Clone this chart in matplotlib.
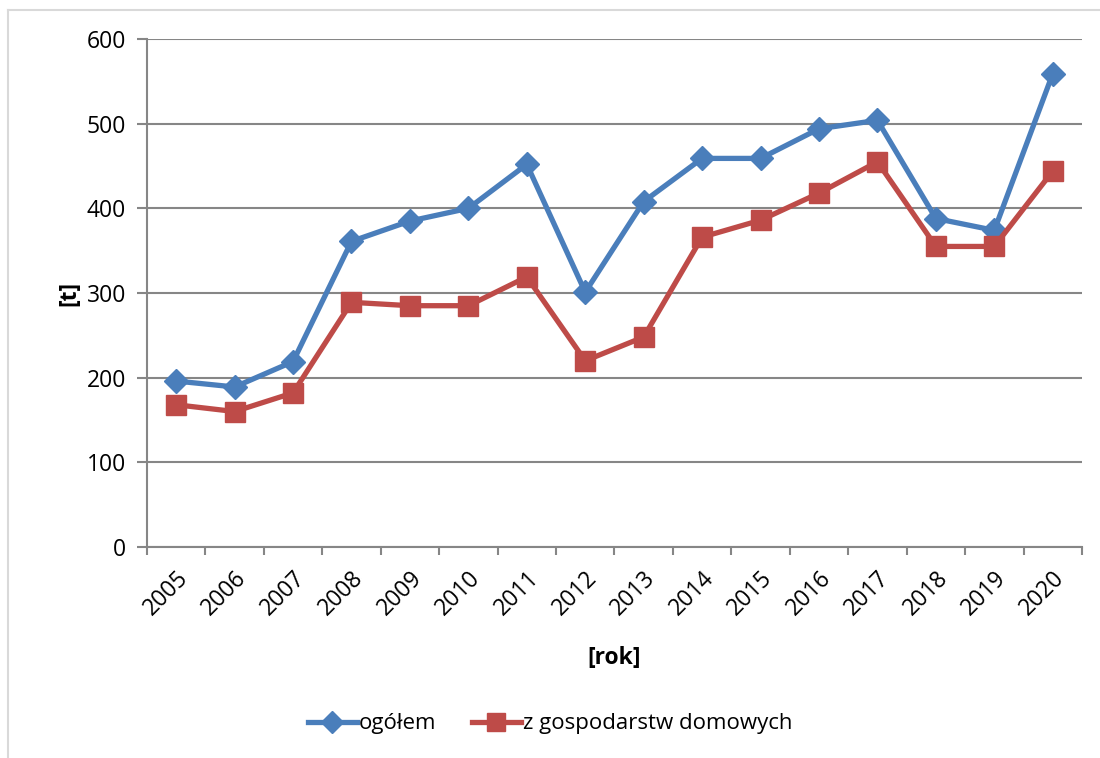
import matplotlib.pyplot as plt
from matplotlib.lines import Line2D
import numpy as np

plt.rcParams['font.family'] = ['Open Sans', 'DejaVu Sans']

years = ['2005', '2006', '2007', '2008', '2009', '2010', '2011', '2012',
         '2013', '2014', '2015', '2016', '2017', '2018', '2019', '2020']
ogolem = [196, 189, 219, 361, 385, 400, 452, 301,
          408, 459, 459, 494, 504, 388, 374, 559]
gosp_dom = [168, 160, 182, 289, 285, 285, 319, 220,
            248, 366, 386, 418, 455, 355, 355, 444]

blue = '#4a7ebb'
red = '#be4b48'
grey = '#868686'
fs = 16.5

fig = plt.figure(figsize=(11, 7.58), dpi=100)
ax = fig.add_axes([0.1336, 0.2784, 0.85, 0.6701])

x = np.arange(len(years))
ax.plot(x, ogolem, color=blue, lw=3.8, marker='D', ms=12, label='ogółem', zorder=3)
ax.plot(x, gosp_dom, color=red, lw=3.8, marker='s', ms=14, label='z gospodarstw domowych', zorder=3)

ax.set_xlim(-0.5, len(years) - 0.5)
ax.set_ylim(0, 600)
ax.set_yticks(range(0, 601, 100))
ax.yaxis.grid(True, color=grey, lw=1.5)
ax.set_axisbelow(True)

# ticks between categories, labels at the categories
ax.set_xticks(np.arange(-0.5, len(years)), minor=False)
ax.set_xticklabels([])
ax.set_xticks(x, minor=True)
ax.set_xticklabels(years, minor=True, rotation=45, ha='right', va='top',
                   rotation_mode='anchor', fontsize=fs)
ax.tick_params(axis='x', which='major', length=6, width=1.5, color=grey)
ax.tick_params(axis='x', which='minor', length=0, pad=14)
ax.tick_params(axis='y', length=7, width=1.5, color=grey, labelsize=fs, pad=8)

for s in ['top', 'right']:
    ax.spines[s].set_visible(False)
for s in ['left', 'bottom']:
    ax.spines[s].set_color(grey)
    ax.spines[s].set_linewidth(1.5)

ax.set_ylabel('[t]', fontsize=fs, fontweight='bold', labelpad=4)
ax.set_xlabel('[rok]', fontsize=fs, fontweight='bold', labelpad=18)

fig.legend(loc='center', bbox_to_anchor=(0.5, 1 - 724 / 758), ncol=2,
           frameon=False, fontsize=16, handlelength=2.2, columnspacing=1.6,
           handletextpad=0.1, markerscale=0.9)

# outer chart border (partly cropped in the original)
fig.add_artist(Line2D([8 / 1100, 8 / 1100], [0, 1 - 10 / 758],
                      transform=fig.transFigure, color='#d9d9d9', lw=1.5))
fig.add_artist(Line2D([8 / 1100, 1], [1 - 10 / 758, 1 - 10 / 758],
                      transform=fig.transFigure, color='#d9d9d9', lw=1.5))

fig.savefig('out.png', dpi=100)
